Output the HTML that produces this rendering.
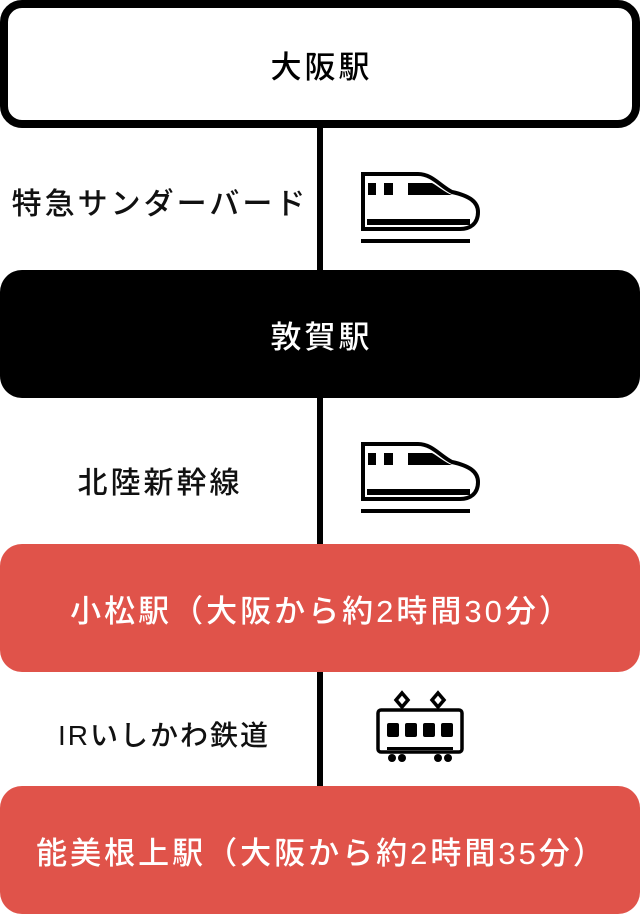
<!DOCTYPE html>
<html><head><meta charset="utf-8"><style>
body{margin:0;width:640px;height:914px;background:#fff;position:relative;overflow:hidden;font-family:"Liberation Sans","Noto Sans CJK JP",sans-serif;}
.line{position:absolute;left:317px;top:120px;width:6px;height:680px;background:#000;}
.box{position:absolute;left:0;width:640px;height:128px;border-radius:22px;box-sizing:border-box;display:flex;align-items:center;justify-content:center;font-size:31px;letter-spacing:3px;padding-left:3px;font-weight:500;}
.lab{position:absolute;width:320px;left:0;text-align:center;font-size:30px;letter-spacing:3px;font-weight:500;color:#111;line-height:36px;}
svg{position:absolute;left:0;top:0;}
</style></head><body>
<div class="line"></div>
<div class="box" style="top:0;border:8px solid #000;background:#fff;color:#000;">大阪駅</div>
<div class="box" style="top:270px;background:#000;color:#fff;">敦賀駅</div>
<div class="box" style="top:544px;background:#e0534a;color:#fff;">小松駅（大阪から約2時間30分）</div>
<div class="box" style="top:786px;background:#e0534a;color:#fff;">能美根上駅（大阪から約2時間35分）</div>
<div class="lab" style="top:187px;">特急サンダーバード</div>
<div class="lab" style="top:466px;">北陸新幹線</div>
<div class="lab" style="top:718px;left:4px;font-size:28px;letter-spacing:2px;">IRいしかわ鉄道</div>
<svg width="640" height="914">
<defs><g id="tr">
<path d="M363,174 H418 C432,174 440,186 452,192 C470,196 478,202 478,212 C478,224 470,229 460,229 H363 Z" fill="none" stroke="#000" stroke-width="4"/>
<rect x="368" y="183" width="8" height="12"/>
<rect x="384" y="183" width="9" height="12"/>
<path d="M408,183 H432 C438,186 444,192 452,195 H408 Z"/>
<rect x="367" y="219" width="103" height="6"/>
<rect x="361" y="239" width="109" height="4"/>
</g></defs>
<use href="#tr"/>
<use href="#tr" y="270"/>
<g fill="none" stroke="#000" stroke-width="3.5">
<path d="M402,693 L408,700 L402,707 L396,700 Z"/>
<path d="M438,693 L444,700 L438,707 L432,700 Z"/>
<rect x="378" y="710" width="84" height="42" rx="3"/>
</g>
<rect x="387" y="723" width="12" height="14" rx="2"/>
<rect x="405" y="723" width="12" height="14" rx="2"/>
<rect x="423" y="723" width="12" height="14" rx="2"/>
<rect x="441" y="723" width="12" height="14" rx="2"/>
<rect x="387" y="747" width="66" height="3"/>
<circle cx="392" cy="758" r="4"/><circle cx="402" cy="758" r="4"/>
<circle cx="438" cy="758" r="4"/><circle cx="448" cy="758" r="4"/>
</svg>
</body></html>
